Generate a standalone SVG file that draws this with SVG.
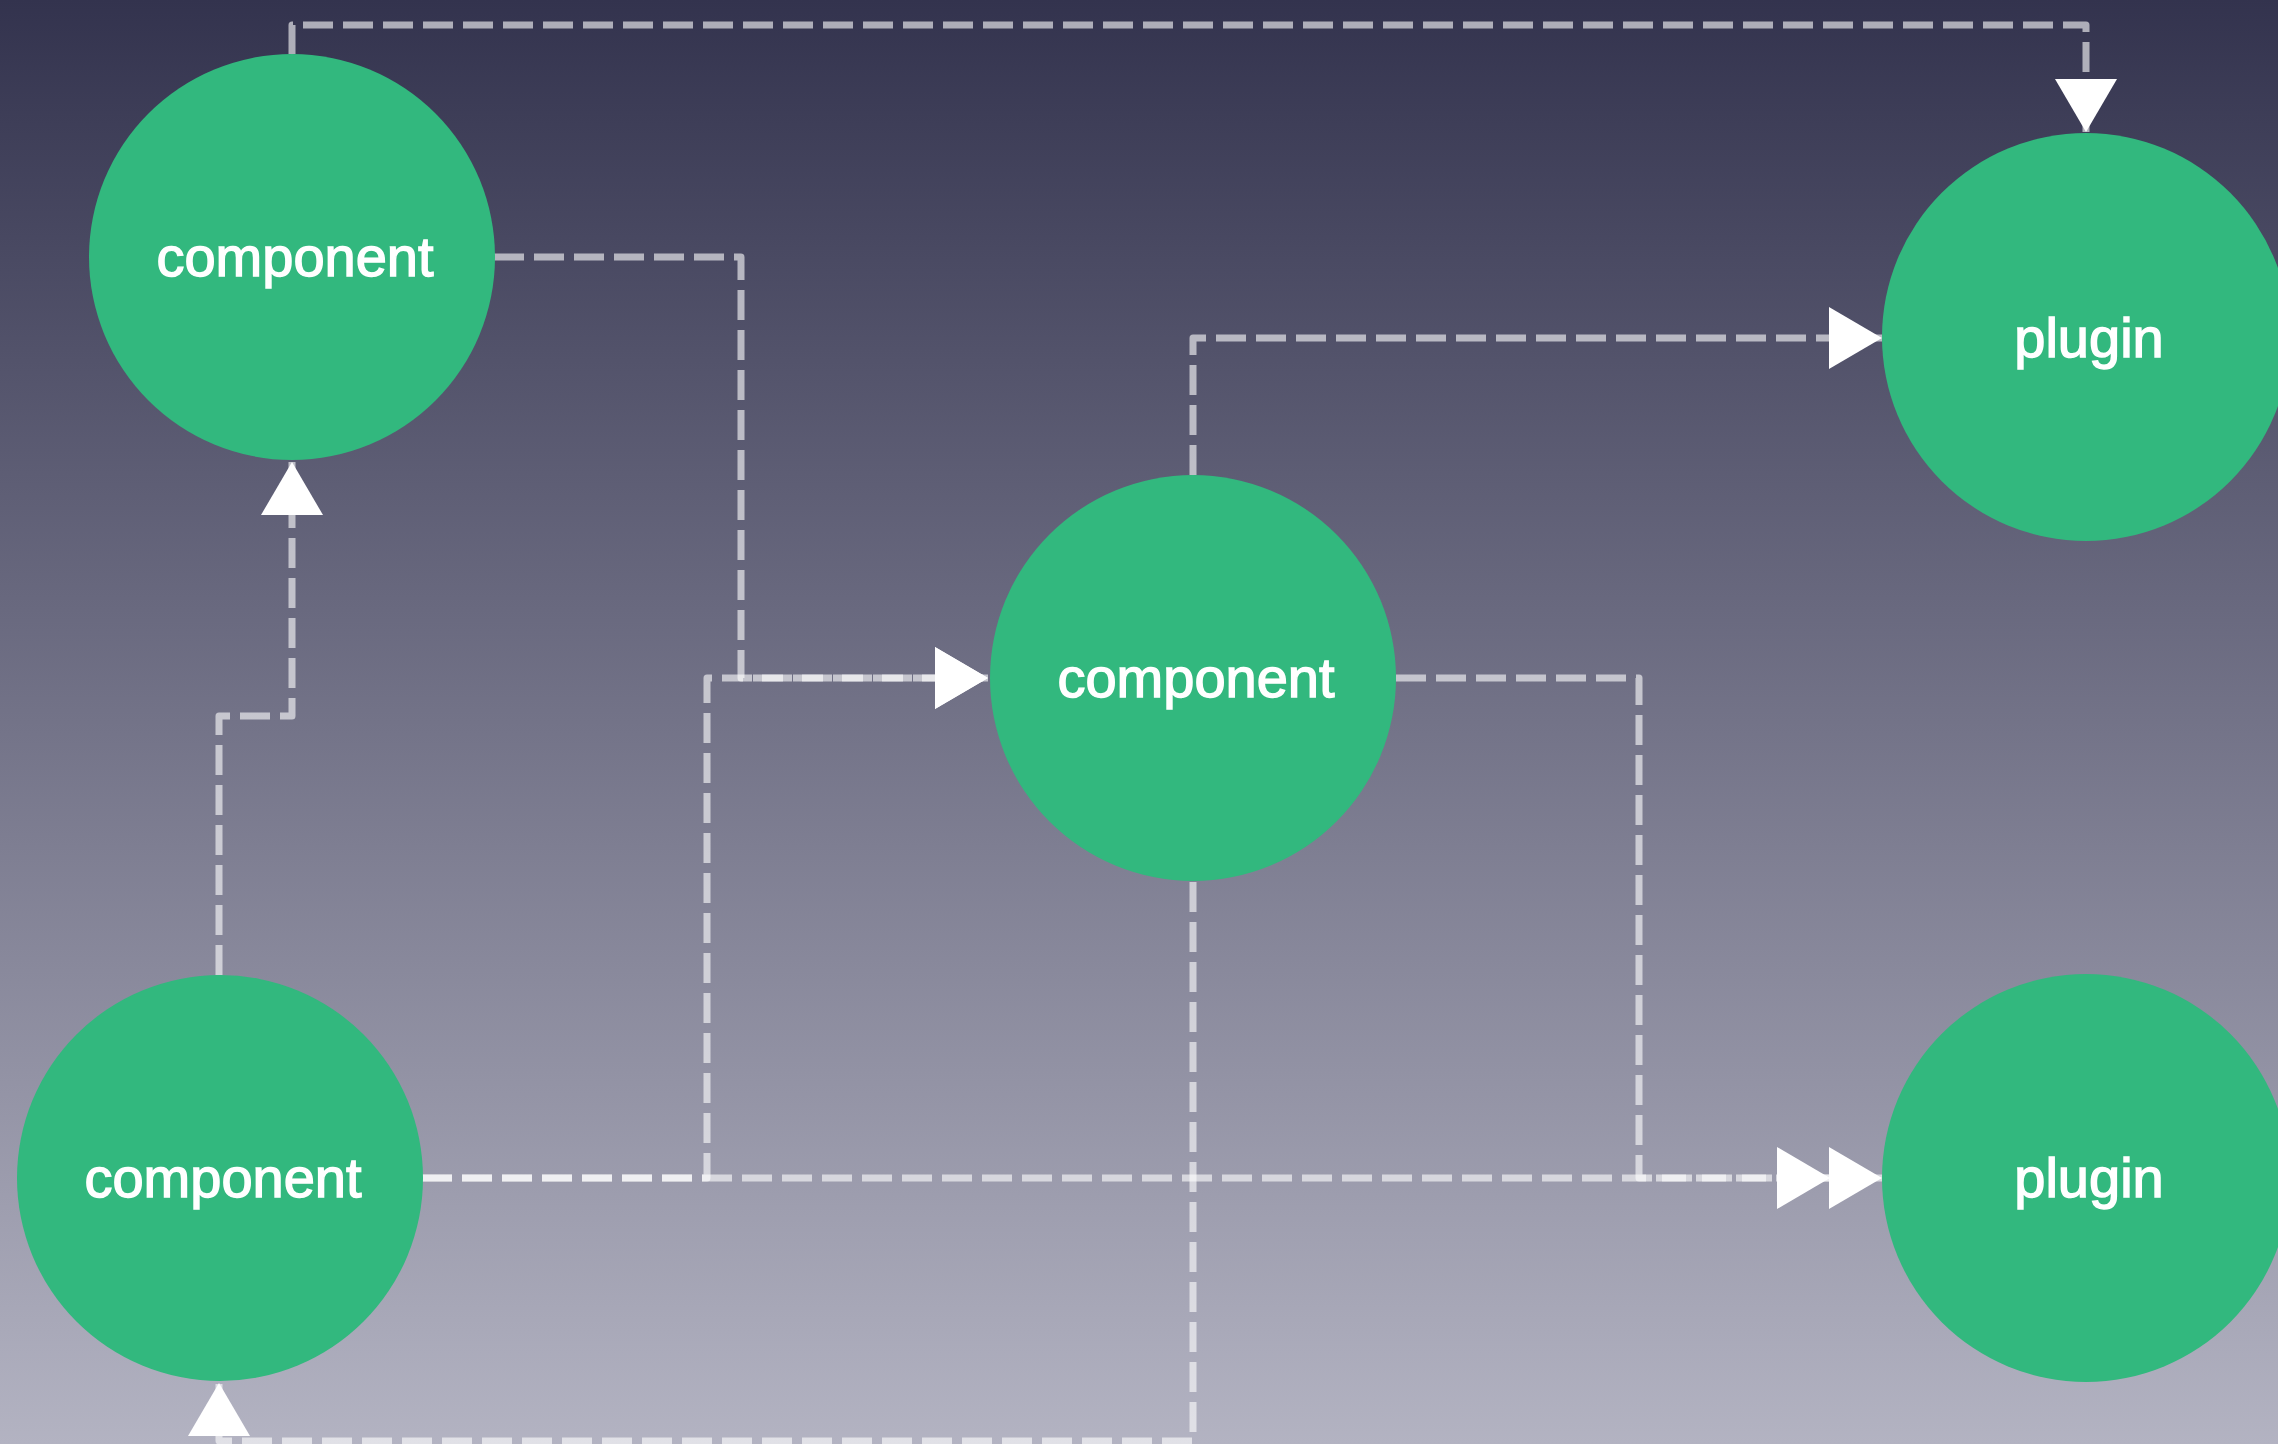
<svg xmlns="http://www.w3.org/2000/svg" width="2278" height="1444" viewBox="0 0 2278 1444">
<defs>
<linearGradient id="bg" x1="0" y1="0" x2="0" y2="1">
<stop offset="0" stop-color="#33334e"/>
<stop offset="1" stop-color="#b3b3c2"/>
</linearGradient>
<marker id="arr" markerUnits="userSpaceOnUse" markerWidth="54" markerHeight="62" refX="53" refY="31" orient="auto" viewBox="0 0 54 62">
<path d="M0,0 L53,31 L0,62 Z" fill="#ffffff"/>
</marker>
<style>
.edge{fill:none;stroke:#ffffff;stroke-opacity:0.6;stroke-width:7;stroke-dasharray:30 10;stroke-linejoin:round}
.node circle{fill:#32b87e}
.node text{fill:#ffffff;stroke:#ffffff;stroke-width:1.4px;font-family:"Liberation Sans",Arial,Helvetica,sans-serif;font-size:56px;text-anchor:middle}
</style>
</defs>
<rect x="0" y="0" width="2278" height="1444" fill="url(#bg)"/>
<g id="connectors">
<path class="edge" d="M292,54 V25 H2086 V132" marker-end="url(#arr)"/>
<path class="edge" d="M494,257 H741 V678 H988" marker-end="url(#arr)"/>
<path class="edge" d="M422,1178 H707 V678 H988" marker-end="url(#arr)"/>
<path class="edge" d="M219,975 V716 H292 V462" marker-end="url(#arr)"/>
<path class="edge" d="M1193,475 V338 H1882" marker-end="url(#arr)"/>
<path class="edge" d="M1396,678 H1639 V1178 H1882" marker-end="url(#arr)"/>
<path class="edge" d="M422,1178 H1830" marker-end="url(#arr)"/>
<path class="edge" d="M1193,882 V1441 H219 V1383" marker-end="url(#arr)"/>
</g>
<g id="node-component-1" class="node">
<circle cx="292" cy="257" r="203"/>
<text x="295" y="276">component</text>
</g>
<g id="node-plugin-1" class="node">
<circle cx="2086" cy="337" r="204"/>
<text x="2089" y="357">plugin</text>
</g>
<g id="node-component-2" class="node">
<circle cx="1193" cy="678" r="203"/>
<text x="1196" y="697">component</text>
</g>
<g id="node-component-3" class="node">
<circle cx="220" cy="1178" r="203"/>
<text x="223" y="1197">component</text>
</g>
<g id="node-plugin-2" class="node">
<circle cx="2086" cy="1178" r="204"/>
<text x="2089" y="1197">plugin</text>
</g>
</svg>
